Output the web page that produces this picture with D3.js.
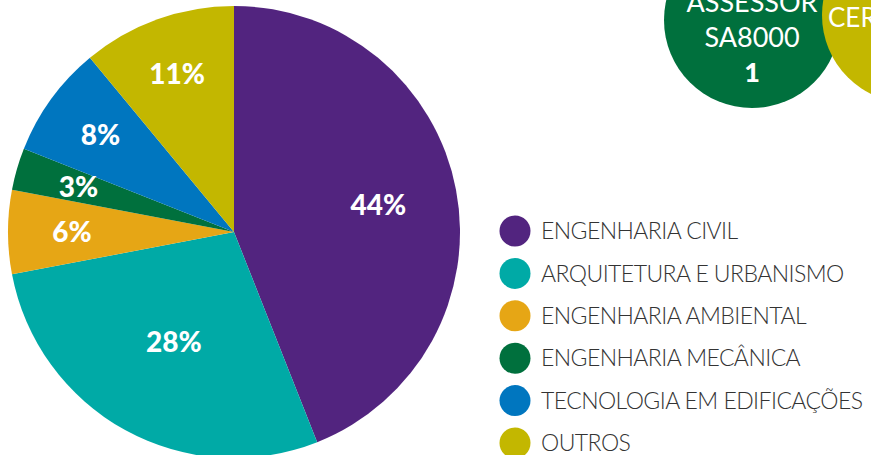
<!DOCTYPE html>
<html><head><meta charset="utf-8">
<script src="https://cdn.jsdelivr.net/npm/d3@7"></script>
<style>html,body{margin:0;padding:0;background:#fff;overflow:hidden}</style>
</head><body>
<svg id="c" width="871" height="455"></svg>
<script>
const categories = ["ENGENHARIA CIVIL","ARQUITETURA E URBANISMO","ENGENHARIA AMBIENTAL","ENGENHARIA MECÂNICA","TECNOLOGIA EM EDIFICAÇÕES","OUTROS"];
const values = [44, 28, 6, 3, 8, 11];
const labels = ["44%","28%","6%","3%","8%","11%"];
const colors = ["#52247f","#00aaa6","#e6a615","#00703d","#0076bf","#c3b700"];
const badgeLines = ["ASSESSOR","SA8000","1"];
const badge2Text = ["CER"];

const svg = d3.select("#c");
const cx = 234, cy = 232, R = 226;
const labelR = [147, 125, 162, 162, 165, 168];

const pie = d3.pie().sort(null).value(d => d)(values);
const arc = d3.arc().innerRadius(0).outerRadius(R);
const g = svg.append("g").attr("transform", `translate(${cx},${cy})`);
g.selectAll("path").data(pie).join("path")
  .attr("d", arc).attr("fill", (d,i) => colors[i]);
g.selectAll("text").data(pie).join("text")
  .attr("transform", (d,i) => {
    const a = (d.startAngle + d.endAngle)/2;
    return `translate(${labelR[i]*Math.sin(a)},${-labelR[i]*Math.cos(a)})`;
  })
  .attr("text-anchor","middle").attr("dy","0.36em")
  .attr("fill","#fff").attr("font-family","Lato").attr("font-weight",900)
  .attr("font-size",28).text((d,i)=>labels[i]);

// legend
const ly = d3.scalePoint().domain(categories).range([231, 443]);
const lg = svg.append("g");
lg.selectAll("circle").data(categories).join("circle")
  .attr("cx",515).attr("cy",d=>ly(d)).attr("r",15.5).attr("fill",(d,i)=>colors[i]);
const lt = lg.selectAll("text").data(categories).join("text")
  .attr("x",541).attr("y",d=>ly(d)).attr("dy","0.36em")
  .attr("fill","#333").attr("font-family","Lato").attr("font-weight",300)
  .attr("font-size",23).text(d=>d);
let maxW = 0; lt.each(function(){ maxW = Math.max(maxW, this.getComputedTextLength()); });
const ls = (322 - maxW) / (categories[4].length - 1);
lt.attr("letter-spacing", ls);

// badges
const b = svg.append("g");
b.append("circle").attr("cx",752).attr("cy",20).attr("r",88).attr("fill","#00703d");
b.append("circle").attr("cx",910).attr("cy",15).attr("r",88).attr("fill","#c3b700");
b.selectAll("text.l").data(badgeLines).join("text").attr("class","l")
  .attr("x",752).attr("y",(d,i)=>12+i*35).attr("text-anchor","middle")
  .attr("fill","#fff").attr("font-family","Lato")
  .attr("font-weight",(d,i)=>i===2?900:400).attr("font-size",27).text(d=>d);
b.append("text").attr("x",828).attr("y",27).attr("fill","#fff")
  .attr("font-family","Lato").attr("font-size",26).text(badge2Text[0]);
</script>
</body></html>
